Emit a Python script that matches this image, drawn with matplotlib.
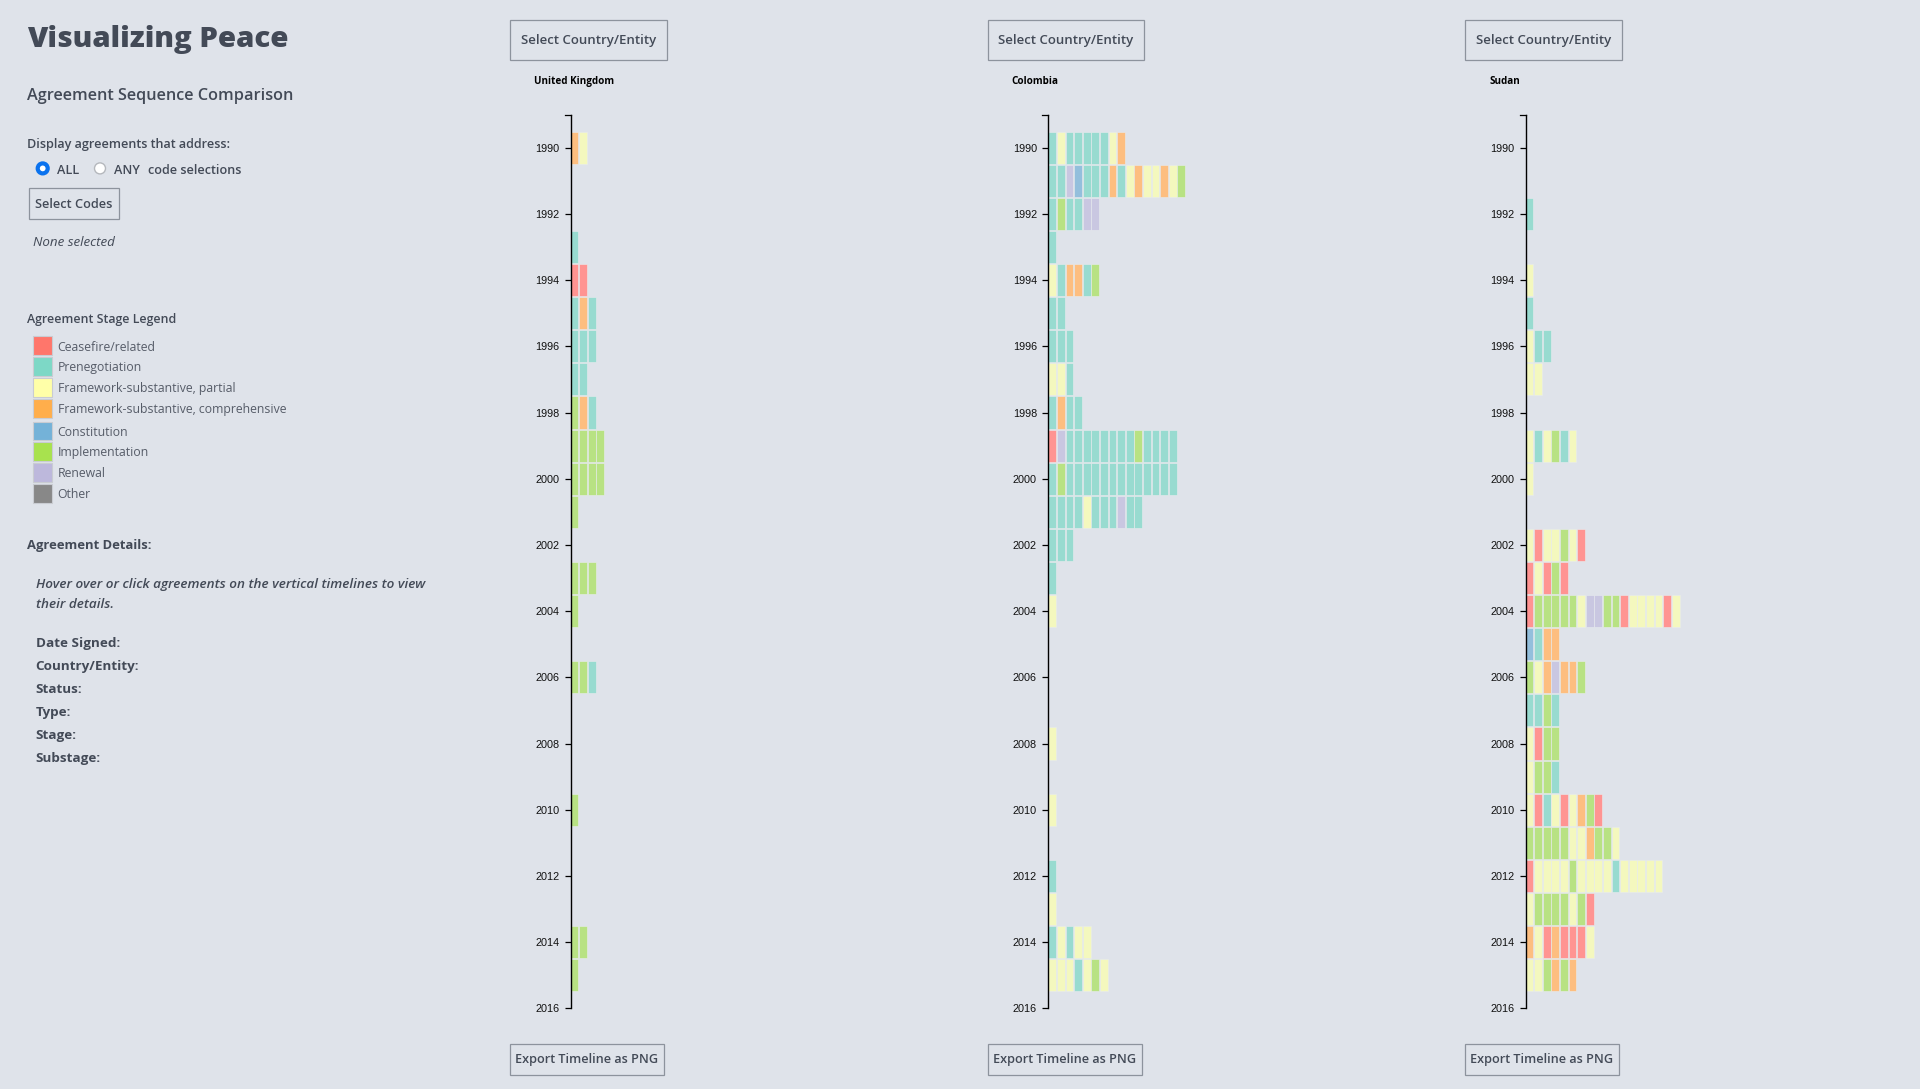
import matplotlib
matplotlib.use("Agg")
import matplotlib.pyplot as plt
from matplotlib.patches import Rectangle, Circle

W, H = 1920, 1089
BG = "#DFE3EA"
INK = "#434A57"
UI_FONT = "Open Sans"

YEARS = list(range(1990, 2016))
TICK_YEARS = list(range(1990, 2017, 2))

# one string per year, one letter per agreement, in timeline order
# F ceasefire, P prenegotiation, S partial, C comprehensive, K constitution, I implementation, R renewal
UK_ROWS = ["CS", "", "", "P", "FF", "PCP", "PPP", "PP", "ICP", "IIII", "IIII", "I", "",
           "III", "I", "", "IIP", "", "", "", "I", "", "", "", "II", "I"]
COLOMBIA_ROWS = ["PSPPPPPSC", "PPRKPPPCPSCSSCSI", "PIPPRR", "P", "SPCCPI", "PP", "PPP", "SSP", "PCPP",
                 "FRPPPPPPPPIPPPP", "PIPPPPPPPPPPPPP", "PPPPSPPPRPP", "PPP", "P", "S", "", "", "",
                 "S", "", "S", "", "P", "S", "PSPSS", "SSSPSIS"]
SUDAN_ROWS = ["", "", "P", "", "S", "P", "SPP", "SS", "", "SPSIPS", "S", "", "SFSSISF", "FSFIF",
              "FIIIIISRRIIFSSSSFS", "KPCC", "ISCRCCI", "PPIP", "SFII", "SIIP", "SFPSFSCIF",
              "IIIIISSCIIS", "FSSSSISSSSPSSSSS", "SIIIISIF", "CSFCFFFS", "SSICIC"]

CELL_COLORS = {"F": "#FF9492", "P": "#98DBD0", "S": "#F4F8BE", "C": "#FDBE80",
               "K": "#93BFDC", "I": "#B8E283", "R": "#C9C7E1"}

LEGEND_LABELS = ["Ceasefire/related", "Prenegotiation", "Framework-substantive, partial",
                 "Framework-substantive, comprehensive", "Constitution", "Implementation",
                 "Renewal", "Other"]
LEGEND_COLORS = ["#FF766B", "#7DD8C6", "#FFFFA8", "#FFAE4B", "#74B2D8", "#A8E24E", "#BDB8DC", "#888888"]
LEGEND_TOPS = [336.4, 357, 378, 398.8, 421.5, 442, 462.8, 483.8]

DETAIL_LABELS = ["Date Signed:", "Country/Entity:", "Status:", "Type:", "Stage:", "Substage:"]
DETAIL_BASELINES = [647, 670, 693, 716, 739, 762]

COUNTRIES = ["United Kingdom", "Colombia", "Sudan"]
COUNTRY_ROWS = [UK_ROWS, COLOMBIA_ROWS, SUDAN_ROWS]
AXIS_X = [570.5, 1048.2, 1525.5]

fig = plt.figure(figsize=(W / 100, H / 100), dpi=100, facecolor=BG)

# overlay in pixel coordinates for the page furniture
ui = fig.add_axes([0, 0, 1, 1])
ui.set_xlim(0, W)
ui.set_ylim(H, 0)
ui.axis("off")


def label(x, y, s, size, weight="normal", style="normal", color=INK, ha="left", va="baseline"):
    ui.text(x, y, s, fontsize=size, fontweight=weight, fontstyle=style, color=color,
            ha=ha, va=va, family=UI_FONT)


def button(x0, y0, x1, y1, s, size, nudge=1):
    ui.add_patch(Rectangle((x0, y0), x1 - x0, y1 - y0, facecolor=BG, edgecolor="#8D939D", lw=0.9))
    label((x0 + x1) / 2, (y0 + y1) / 2 + nudge, s, size, weight="semibold", ha="center", va="center")


label(27, 46.5, "Visualizing Peace", 21.2, weight="heavy")
label(27, 100, "Agreement Sequence Comparison", 11.7, weight="semibold")
label(27, 148, "Display agreements that address:", 9.1, weight="semibold")

ui.add_patch(Circle((42.7, 168.4), 5, facecolor="white", edgecolor="#0A72EE", lw=3))
ui.add_patch(Circle((100, 168.4), 5.5, facecolor="white", edgecolor="#B5B8BD", lw=1))
label(57, 173.5, "ALL", 9.1, weight="semibold")
label(114.5, 173.5, "ANY", 9.1, weight="semibold")
label(148, 173.5, "code selections", 9.1, weight="semibold")

button(29, 188, 118.5, 218.7, "Select Codes", 9.2)
label(33, 246, "None selected", 9.6, style="italic")

label(27, 323, "Agreement Stage Legend", 8.9, weight="semibold")
for name, col, top in zip(LEGEND_LABELS, LEGEND_COLORS, LEGEND_TOPS):
    ui.add_patch(Rectangle((33, top), 18.5, 18.8, facecolor=col, edgecolor="#C9CCD2", lw=0.8))
    label(57.5, top + 10.7, name, 8.8, color="#565C68", va="center")

label(27, 549, "Agreement Details:", 9.4, weight="bold")
label(36, 588, "Hover over or click agreements on the vertical timelines to view", 9.7,
      weight="semibold", style="italic")
label(36, 607.5, "their details.", 9.7, weight="semibold", style="italic")
for name, base in zip(DETAIL_LABELS, DETAIL_BASELINES):
    label(35.5, base, name, 9.7, weight="bold")

# timelines
PITCH = 8.6
PANEL_W = 300
TOP, BOTTOM = 114.6, 1008.3
for country, rows, ax_x in zip(COUNTRIES, COUNTRY_ROWS, AXIS_X):
    button(ax_x - 60.5, 19.5, ax_x + 96, 60.3, "Select Country/Entity", 9.5)
    button(ax_x - 60.5, 1044, ax_x + 93.5, 1074.5, "Export Timeline as PNG", 9.1, nudge=0)
    label(ax_x - 36.5, 84, country, 7.1, weight="bold", color="black")

    ax = fig.add_axes([ax_x / W, 1 - BOTTOM / H, PANEL_W / W, (BOTTOM - TOP) / H])
    ax.patch.set_alpha(0)
    for year, row in zip(YEARS, rows):
        for i, code in enumerate(row):
            ax.barh(year, 0.9, left=i + 0.02, height=0.97, color=CELL_COLORS[code],
                    edgecolor="#E8ECEE", linewidth=0.4)
    ax.set_xlim(0, PANEL_W / PITCH)
    ax.set_ylim(2016, 1989)
    ax.set_yticks(TICK_YEARS)
    ax.set_yticklabels([str(y) for y in TICK_YEARS], fontsize=7.8, family="Liberation Sans", color="#111111")
    ax.tick_params(axis="y", length=4.5, width=0.9, pad=3.6, color="black")
    ax.set_xticks([])
    for side in ["top", "right", "bottom"]:
        ax.spines[side].set_visible(False)
    ax.spines["left"].set_linewidth(1)
    ax.spines["left"].set_zorder(5)
    # the d3 axis draws a small end tick at the top of the domain
    ax.plot([-6 / PITCH, 0], [1989, 1989], color="black", lw=0.9, clip_on=False)

fig.savefig("out.png", dpi=100, facecolor=BG)
